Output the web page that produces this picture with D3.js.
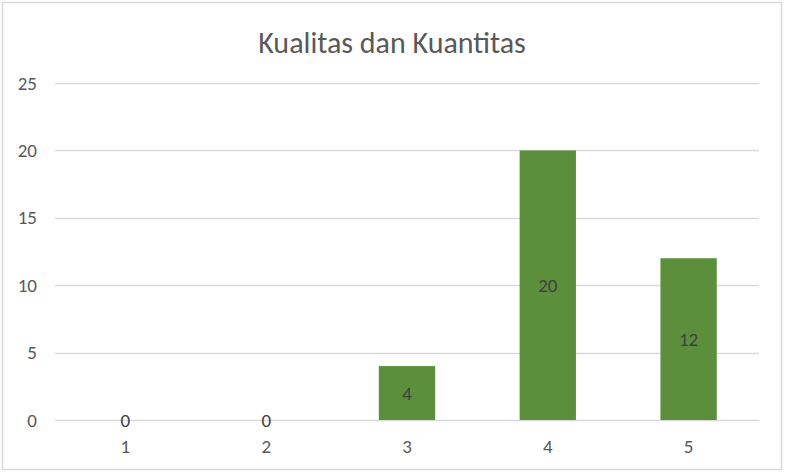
<!DOCTYPE html>
<html>
<head>
<meta charset="utf-8">
<script src="https://cdn.jsdelivr.net/npm/d3@7"></script>
<style>
  html, body { margin: 0; padding: 0; background: #fff; }
  svg { display: block; }
  text { font-family: Carlito, Calibri, "Liberation Sans Narrow", "Open Sans", sans-serif; }
</style>
</head>
<body>
<svg id="chart" width="787" height="474"></svg>
<script>
const title = "Kualitas dan Kuantitas";
const categories = ["1", "2", "3", "4", "5"];
const values = [0, 0, 4, 20, 12];
const yTicks = [0, 5, 10, 15, 20, 25];

const svg = d3.select("#chart");
const W = 787, H = 474;
const m = { left: 55, right: 28, top: 83, bottom: 54 };

svg.append("rect").attr("x", 0).attr("y", 0).attr("width", W).attr("height", H).attr("fill", "#fff");
svg.append("rect").attr("x", 2.5).attr("y", 2.5).attr("width", 779).attr("height", 467)
  .attr("fill", "none").attr("stroke", "#d9d9d9").attr("stroke-width", 1.5);

const x = d3.scaleBand().domain(categories).range([m.left, W - m.right]).paddingInner(0.6).paddingOuter(0.3);
const y = d3.scaleLinear().domain([0, 25]).range([H - m.bottom, m.top]);

// gridlines
svg.append("g").selectAll("line").data(yTicks).join("line")
  .attr("x1", m.left).attr("x2", W - m.right)
  .attr("y1", d => Math.round(y(d)) + 0.5).attr("y2", d => Math.round(y(d)) + 0.5)
  .attr("stroke", "#d9d9d9").attr("stroke-width", 1.5);

// y axis labels
const yAxis = d3.axisLeft(y).tickValues(yTicks).tickSize(0).tickPadding(0);
const gy = svg.append("g").attr("transform", `translate(${m.left - 18},0)`).call(yAxis);
gy.select(".domain").remove();
gy.selectAll("text").attr("fill", "#595959").style("font-size", "19px");

// x axis labels
const xAxis = d3.axisBottom(x).tickSize(0).tickPadding(0);
const gx = svg.append("g").attr("transform", `translate(0,${H - m.bottom + 19})`).call(xAxis);
gx.select(".domain").remove();
gx.selectAll("text").attr("fill", "#595959").style("font-size", "19px");

// bars
svg.append("g").selectAll("rect").data(values).join("rect")
  .attr("x", (d, i) => x(categories[i]))
  .attr("y", d => y(d))
  .attr("width", x.bandwidth())
  .attr("height", d => y(0) - y(d))
  .attr("fill", "#5b8f3b");

// data labels
svg.append("g").selectAll("text").data(values).join("text")
  .attr("x", (d, i) => x(categories[i]) + x.bandwidth() / 2)
  .attr("y", d => (y(d) + y(0)) / 2)
  .attr("dy", "0.35em")
  .attr("text-anchor", "middle")
  .attr("fill", "#404040")
  .style("font-size", "19px")
  .text(d => d);

// title
svg.append("text").attr("x", W / 2 - 1.5).attr("y", 53)
  .attr("text-anchor", "middle").attr("fill", "#595959")
  .style("font-size", "30px")
  .text(title);
</script>
</body>
</html>
